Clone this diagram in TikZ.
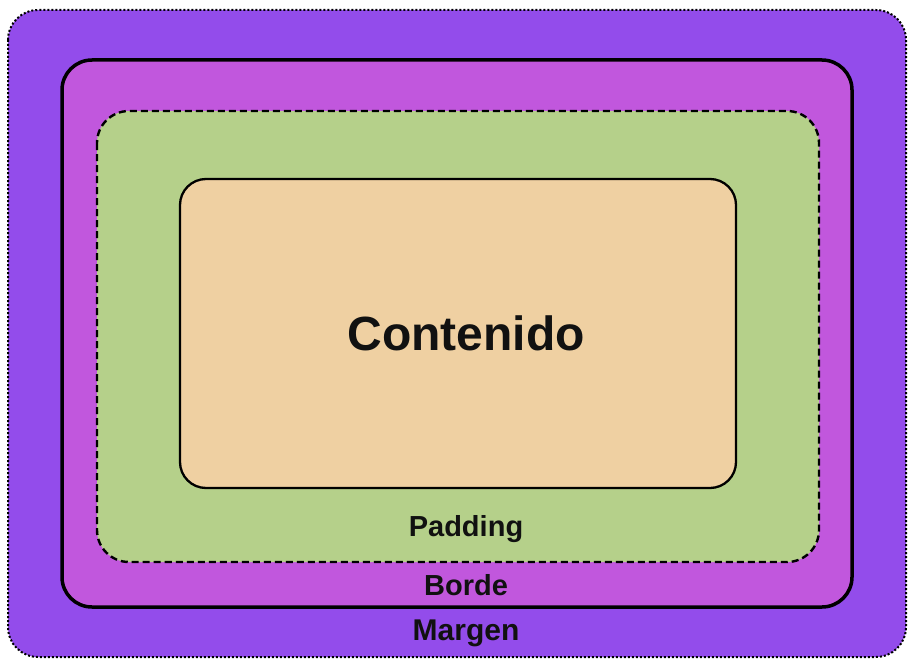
\documentclass[tikz,border=0pt]{standalone}
\usepackage{fontspec}
\setmainfont{Liberation Sans}
\definecolor{margincol}{HTML}{934CEB}
\definecolor{bordercol}{HTML}{C157DD}
\definecolor{paddingcol}{HTML}{B5D08A}
\definecolor{contentcol}{HTML}{EFD0A2}
\definecolor{inkcol}{HTML}{111111}
\begin{document}
\begin{tikzpicture}[x=1pt,y=-1pt,
  lbl/.style={text=inkcol,font=\bfseries,inner sep=0pt,anchor=base}]
\useasboundingbox (0,0) rectangle (912,661);
\draw[fill=margincol,line width=2pt,dash pattern=on 2pt off 2pt,rounded corners=30pt] (8,10) rectangle (906,657);
\draw[fill=bordercol,line width=3.5pt,rounded corners=30pt] (62,60) rectangle (852,607);
\draw[fill=paddingcol,line width=2.4pt,dash pattern=on 7pt off 4pt,rounded corners=32pt] (97,111) rectangle (819,562);
\draw[fill=contentcol,line width=2.3pt,rounded corners=26pt] (180,179) rectangle (736,488);
\node[lbl,font=\bfseries\fontsize{48}{48}\selectfont] (contenido) at (466,350) {Contenido};
\node[lbl,font=\bfseries\fontsize{29}{29}\selectfont] (padding) at (466,536) {Padding};
\node[lbl,font=\bfseries\fontsize{29}{29}\selectfont] (borde) at (466,595) {Borde};
\node[lbl,font=\bfseries\fontsize{30}{30}\selectfont] (margen) at (466,640) {Margen};
\end{tikzpicture}
\end{document}
